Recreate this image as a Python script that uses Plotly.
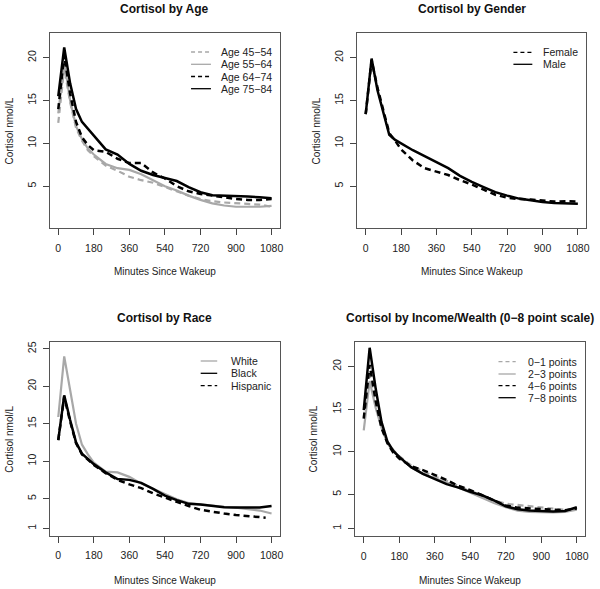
import plotly.graph_objects as go

W, H = 600, 589

# ---------------- data ----------------
t_std = [0, 30, 60, 90, 120, 150, 180, 240, 300, 360, 420, 480, 540, 600, 660, 720, 780, 840, 900, 960, 1020, 1080]

age_labels = ["Age 45\u221254", "Age 55\u221264", "Age 64\u221274", "Age 75\u221284"]
age_45_54 = [12.4, 18.8, 14.8, 11.8, 10.3, 9.2, 8.5, 7.4, 6.8, 6.1, 5.7, 5.4, 4.9, 4.4, 3.9, 3.5, 3.25, 3.1, 3.0, 2.9, 2.85, 2.6]
age_55_64 = [13.5, 19.5, 15.0, 12.0, 10.5, 9.4, 8.7, 7.6, 7.1, 6.9, 6.4, 5.7, 5.0, 4.5, 3.9, 3.4, 3.0, 2.75, 2.6, 2.6, 2.6, 2.7]
age_64_74 = [14.0, 20.3, 15.8, 12.5, 10.7, 9.8, 9.2, 9.0, 8.2, 7.7, 7.7, 6.6, 5.9, 5.0, 4.4, 4.1, 3.9, 3.7, 3.5, 3.4, 3.4, 3.5]
age_75_84 = [15.5, 21.2, 17.0, 14.0, 12.5, 11.7, 10.9, 9.3, 8.7, 7.6, 6.8, 6.3, 5.95, 5.6, 4.9, 4.3, 3.95, 3.9, 3.9, 3.8, 3.7, 3.6]

gender_labels = ["Female", "Male"]
gender_female = [13.4, 19.7, 16.5, 13.8, 11.2, 10.3, 9.3, 8.0, 7.1, 6.7, 6.3, 5.7, 5.2, 4.6, 4.0, 3.65, 3.5, 3.45, 3.3, 3.2, 3.25, 3.2]
gender_male = [13.4, 19.9, 16.2, 13.5, 11.0, 10.4, 10.0, 9.2, 8.5, 7.8, 7.1, 6.2, 5.5, 4.9, 4.3, 3.9, 3.55, 3.35, 3.15, 3.05, 3.0, 2.95]

race_labels = ["White", "Black", "Hispanic"]
t_hisp = [0, 30, 60, 90, 120, 150, 180, 240, 300, 360, 420, 480, 540, 600, 660, 720, 780, 840, 900, 960, 1020, 1050]
race_white = [15.9, 24.0, 19.5, 15.0, 12.2, 10.9, 9.8, 8.6, 8.5, 7.9, 7.0, 6.3, 5.5, 4.9, 4.4, 4.2, 4.0, 3.9, 3.8, 3.6, 3.4, 3.0]
race_black = [12.8, 18.8, 15.5, 12.5, 11.0, 10.3, 9.6, 8.5, 7.6, 7.5, 7.1, 6.3, 5.4, 4.8, 4.3, 4.2, 4.0, 3.85, 3.8, 3.75, 3.8, 4.0]
race_hispanic = [12.8, 18.6, 15.3, 12.4, 10.9, 10.2, 9.5, 8.4, 7.5, 6.9, 6.4, 5.7, 5.1, 4.6, 4.0, 3.5, 3.2, 3.0, 2.8, 2.65, 2.55, 2.45]

income_labels = ["0\u22121 points", "2\u22123 points", "4\u22126 points", "7\u22128 points"]
inc_0_1 = [14.0, 19.0, 15.8, 13.0, 11.2, 10.2, 9.5, 8.4, 7.7, 7.1, 6.6, 6.0, 5.4, 4.9, 4.3, 3.9, 3.75, 3.65, 3.5, 3.35, 3.2, 3.2]
inc_2_3 = [12.5, 18.3, 15.2, 12.8, 11.0, 10.0, 9.4, 8.2, 7.4, 6.9, 6.4, 5.8, 5.2, 4.6, 4.0, 3.5, 3.1, 2.95, 2.9, 2.9, 2.95, 3.2]
inc_4_6 = [13.9, 20.2, 16.0, 12.8, 11.0, 9.9, 9.2, 8.3, 7.85, 7.3, 6.7, 6.0, 5.5, 4.9, 4.3, 3.7, 3.45, 3.35, 3.25, 3.2, 3.15, 3.35]
inc_7_8 = [14.9, 22.2, 17.5, 13.5, 11.2, 10.1, 9.4, 8.2, 7.4, 6.8, 6.2, 5.8, 5.3, 4.9, 4.3, 3.6, 3.25, 3.1, 3.05, 3.0, 3.05, 3.5]

x_ticks = [0, 180, 360, 540, 720, 900, 1080]
y_ticks_top = [5, 10, 15, 20]
y_ticks_race = [1, 5, 10, 15, 20, 25]
y_ticks_inc = [1, 5, 10, 15, 20]

titles = ["Cortisol by Age", "Cortisol by Gender", "Cortisol by Race",
          "Cortisol by Income/Wealth (0\u22128 point scale)"]
x_title = "Minutes Since Wakeup"
y_title = "Cortisol nmol/L"

# ---------------- styles ----------------
GRAY = "#a8a8a8"
BLACK = "#000000"
DASH = "6px,4px"
LDASH = "4px,3px"
FONT = "Liberation Sans, Arial, sans-serif"
LW_G, LW_B = 2.2, 2.5

# panel boxes in pixels: (left, right, top, bottom)
boxes = [(50, 281.5, 33, 228), (359, 589.3, 33, 228),
         (50, 281.5, 341.7, 535.7), (357, 588.3, 342, 536)]
yranges = [[0.12, 22.88], [0.12, 22.88], [0.04, 25.96], [0.12, 22.88]]
yticks = [y_ticks_top, y_ticks_top, y_ticks_race, y_ticks_inc]

panels = [
    [(t_std, age_45_54, GRAY, DASH, LW_G), (t_std, age_55_64, GRAY, None, LW_G),
     (t_std, age_64_74, BLACK, DASH, LW_B), (t_std, age_75_84, BLACK, None, LW_B)],
    [(t_std, gender_female, BLACK, DASH, LW_B), (t_std, gender_male, BLACK, None, LW_B)],
    [(t_hisp, race_hispanic, BLACK, DASH, LW_B), (t_std, race_white, GRAY, None, LW_G),
     (t_std, race_black, BLACK, None, LW_B)],
    [(t_std, inc_0_1, GRAY, DASH, LW_G), (t_std, inc_2_3, GRAY, None, LW_G),
     (t_std, inc_4_6, BLACK, DASH, LW_B), (t_std, inc_7_8, BLACK, None, LW_B)],
]
names = [age_labels, gender_labels, [race_labels[2], race_labels[0], race_labels[1]], income_labels]

# legend specs: (line x0, line x1, text x, [row y...], [(color, dash)...], labels)
legends = [
    (192, 212, 220, [52, 64.3, 76.5, 88.7],
     [(GRAY, LDASH), (GRAY, None), (BLACK, LDASH), (BLACK, None)], age_labels),
    (516, 535, 544, [52.3, 64.3], [(BLACK, LDASH), (BLACK, None)], gender_labels),
    (201.7, 218.3, 230, [361, 373.3, 385.7], [(GRAY, None), (BLACK, None), (BLACK, LDASH)], race_labels),
    (501, 518.3, 528.3, [361.7, 374, 385.7, 397.7],
     [(GRAY, LDASH), (GRAY, None), (BLACK, LDASH), (BLACK, None)], income_labels),
]
title_pos = [(165.5, 9), (474, 9), (165.7, 318.3), (472.7, 318.3)]
xtitle_y = [271.5, 271.5, 580, 580]
ytitle_x = [10, 318.5, 10, 315]


def px(x):
    return x / W


def py(y):
    return 1 - y / H


fig = go.Figure()
layout = dict(width=W, height=H, margin=dict(l=0, r=0, t=0, b=0),
              plot_bgcolor="white", paper_bgcolor="white", showlegend=False,
              font=dict(family=FONT, size=10, color="#222"))
shapes, annotations = [], []

for i in range(4):
    xa = "xaxis" if i == 0 else f"xaxis{i + 1}"
    ya = "yaxis" if i == 0 else f"yaxis{i + 1}"
    xr = "x" if i == 0 else f"x{i + 1}"
    yr = "y" if i == 0 else f"y{i + 1}"
    l, r, t, b = boxes[i]
    layout[xa] = dict(domain=[px(l), px(r)], range=[-43.2, 1123.2], anchor=yr,
                      tickmode="array", tickvals=x_ticks, ticks="outside", ticklen=6,
                      tickcolor="#444", showline=True, mirror=True, linecolor="#555",
                      linewidth=1, showgrid=False, zeroline=False,
                      tickfont=dict(size=10.5, family=FONT, color="#222"),
                      ticklabelstandoff=4)
    layout[ya] = dict(domain=[py(b), py(t)], range=yranges[i], anchor=xr,
                      tickmode="array", tickvals=yticks[i], ticks="outside", ticklen=6,
                      tickcolor="#444", showline=True, mirror=True, linecolor="#555",
                      linewidth=1, showgrid=False, zeroline=False, tickangle=-90,
                      tickfont=dict(size=10.5, family=FONT, color="#222"),
                      ticklabelstandoff=3)
    for (tx, vals, col, dash, lw), nm in zip(panels[i], names[i]):
        fig.add_trace(go.Scatter(x=tx, y=vals, mode="lines", name=nm, xaxis=xr, yaxis=yr,
                                 line=dict(color=col, width=lw, dash=dash or "solid")))
    # title and axis titles
    tx_, ty_ = title_pos[i]
    annotations.append(dict(text=f"<b>{titles[i]}</b>", x=px(tx_), y=py(ty_), xref="paper",
                            yref="paper", showarrow=False, xanchor="center", yanchor="middle",
                            font=dict(size=12, family=FONT, color="#111")))
    annotations.append(dict(text=x_title, x=px((l + r) / 2), y=py(xtitle_y[i]), xref="paper",
                            yref="paper", showarrow=False, xanchor="center", yanchor="middle",
                            font=dict(size=10, family=FONT, color="#222")))
    annotations.append(dict(text=y_title, x=px(ytitle_x[i]), y=py((t + b) / 2), xref="paper",
                            yref="paper", showarrow=False, xanchor="center", yanchor="middle",
                            textangle=-90, font=dict(size=10, family=FONT, color="#222")))
    # legend
    lx0, lx1, ltx, rows, styles, labs = legends[i]
    for ry, (col, dash), lab in zip(rows, styles, labs):
        shapes.append(dict(type="line", xref="paper", yref="paper", x0=px(lx0), x1=px(lx1),
                           y0=py(ry), y1=py(ry),
                           line=dict(color=col, width=1.3, dash=dash or "solid")))
        annotations.append(dict(text=lab, x=px(ltx), y=py(ry), xref="paper", yref="paper",
                                showarrow=False, xanchor="left", yanchor="middle",
                                font=dict(size=10.5, family=FONT, color="#222")))

layout["shapes"] = shapes
layout["annotations"] = annotations
fig.update_layout(**layout)
fig.write_html("out.html", config={"displayModeBar": False},
               post_script="document.body.style.margin='0px';document.body.style.overflow='hidden';")
